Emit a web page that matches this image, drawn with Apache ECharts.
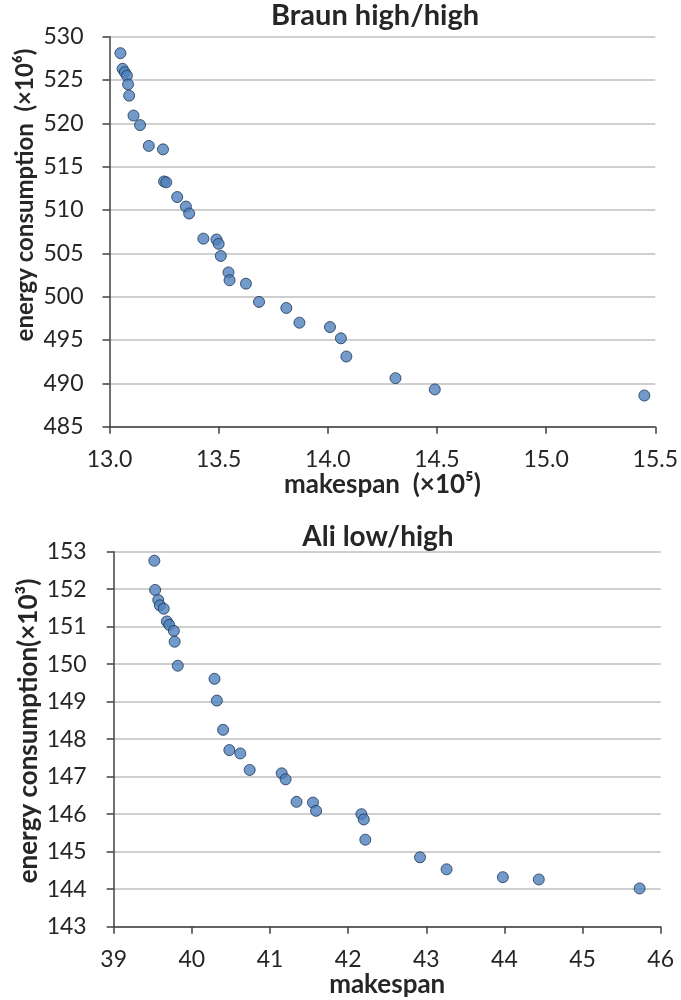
<!DOCTYPE html>
<html><head><meta charset="utf-8">
<script src="https://cdn.jsdelivr.net/npm/echarts@6/dist/echarts.min.js"></script>
<style>html,body{margin:0;padding:0;background:#fff}#c{width:681px;height:1000px}</style>
</head><body><div id="c"></div>
<script>
const braunMakespan = [13.05,13.06,13.07,13.08,13.085,13.09,13.11,13.14,13.18,13.245,13.25,13.26,13.31,13.35,13.365,13.43,13.49,13.50,13.51,13.545,13.55,13.625,13.685,13.81,13.87,14.01,14.06,14.085,14.31,14.49,15.45];
const braunEnergy = [528.1,526.3,525.9,525.5,524.5,523.2,520.9,519.8,517.4,517.0,513.3,513.2,511.5,510.4,509.6,506.7,506.6,506.1,504.7,502.8,501.9,501.5,499.4,498.7,497.0,496.5,495.2,493.1,490.6,489.3,488.6];
const aliMakespan = [39.52,39.53,39.57,39.59,39.64,39.68,39.71,39.77,39.78,39.82,40.29,40.32,40.40,40.48,40.62,40.74,41.15,41.20,41.34,41.55,41.59,42.17,42.20,42.22,42.92,43.26,43.98,44.44,45.73];
const aliEnergy = [152.76,151.98,151.71,151.57,151.48,151.14,151.05,150.89,150.60,149.96,149.61,149.03,148.25,147.71,147.62,147.18,147.09,146.93,146.33,146.31,146.09,146.00,145.86,145.32,144.85,144.53,144.32,144.26,144.02];

const titles = ['Braun high/high', 'Ali low/high'];
const xNames = ['makespan  (\u00d710\u2075)', 'makespan'];
const yNames = ['energy consumption  (\u00d710\u2076)', 'energy consumption(\u00d710\u00b3)'];

const FONT = 'Lato';
const chart = echarts.init(document.getElementById('c'), null, {renderer:'canvas'});
const axisLine = {show:true, lineStyle:{color:'#404040', width:1.5}};
const axisTick = {show:true, inside:false, length:7, lineStyle:{color:'#404040', width:1.5}};
const lbl = {fontFamily:FONT, fontSize:23, color:'#262626'};
const nameStyle = {fontFamily:FONT, fontSize:26, fontWeight:'bold', color:'#262626'};
const pts = (xs, ys) => xs.map((x,i)=>[x, ys[i]]);
const marker = {color:'#4f81bd', borderColor:'#1c3555', borderWidth:1};

chart.setOption({
  animation:false,
  backgroundColor:'#fff',
  grid:[
    {left:109.5, top:36.7, width:547.2, height:390, containLabel:false},
    {left:113.7, top:551.7, width:547, height:375, containLabel:false}
  ],
  xAxis:[
    {gridIndex:0, type:'value', min:13, max:15.5, interval:0.5, axisLine, axisTick, splitLine:{show:false},
     axisLabel:Object.assign({margin:21, formatter:v=>v.toFixed(1)}, lbl),
     name:xNames[0], nameLocation:'middle', nameGap:44, nameTextStyle:nameStyle},
    {gridIndex:1, type:'value', min:39, max:46, interval:1, axisLine, axisTick, splitLine:{show:false},
     axisLabel:Object.assign({margin:21}, lbl),
     name:xNames[1], nameLocation:'middle', nameGap:41, nameTextStyle:nameStyle}
  ],
  yAxis:[
    {gridIndex:0, type:'value', min:485, max:530, interval:5, axisLine, axisTick,
     splitLine:{show:true, lineStyle:{color:'#bfbfbf', width:1.5}},
     axisLabel:Object.assign({margin:26}, lbl)},
    {gridIndex:1, type:'value', min:143, max:153, interval:1, axisLine, axisTick,
     splitLine:{show:true, lineStyle:{color:'#bfbfbf', width:1.5}},
     axisLabel:Object.assign({margin:27}, lbl)}
  ],
  graphic:[
    {type:'text', x:375, y:16, style:{text:titles[0], font:'bold 29px '+FONT, fill:'#262626', textAlign:'center', textVerticalAlign:'middle'}},
    {type:'text', x:378, y:537, style:{text:titles[1], font:'bold 28px '+FONT, fill:'#262626', textAlign:'center', textVerticalAlign:'middle'}},
    {type:'text', x:25, y:195, rotation:Math.PI/2, style:{text:yNames[0], font:'bold 24px '+FONT, fill:'#262626', textAlign:'center', textVerticalAlign:'middle'}},
    {type:'text', x:29, y:731, rotation:Math.PI/2, style:{text:yNames[1], font:'bold 26px '+FONT, fill:'#262626', textAlign:'center', textVerticalAlign:'middle'}}
  ],
  series:[
    {type:'scatter', xAxisIndex:0, yAxisIndex:0, symbolSize:11, itemStyle:marker, data:pts(braunMakespan, braunEnergy)},
    {type:'scatter', xAxisIndex:1, yAxisIndex:1, symbolSize:11, itemStyle:marker, data:pts(aliMakespan, aliEnergy)}
  ]
});
</script></body></html>
